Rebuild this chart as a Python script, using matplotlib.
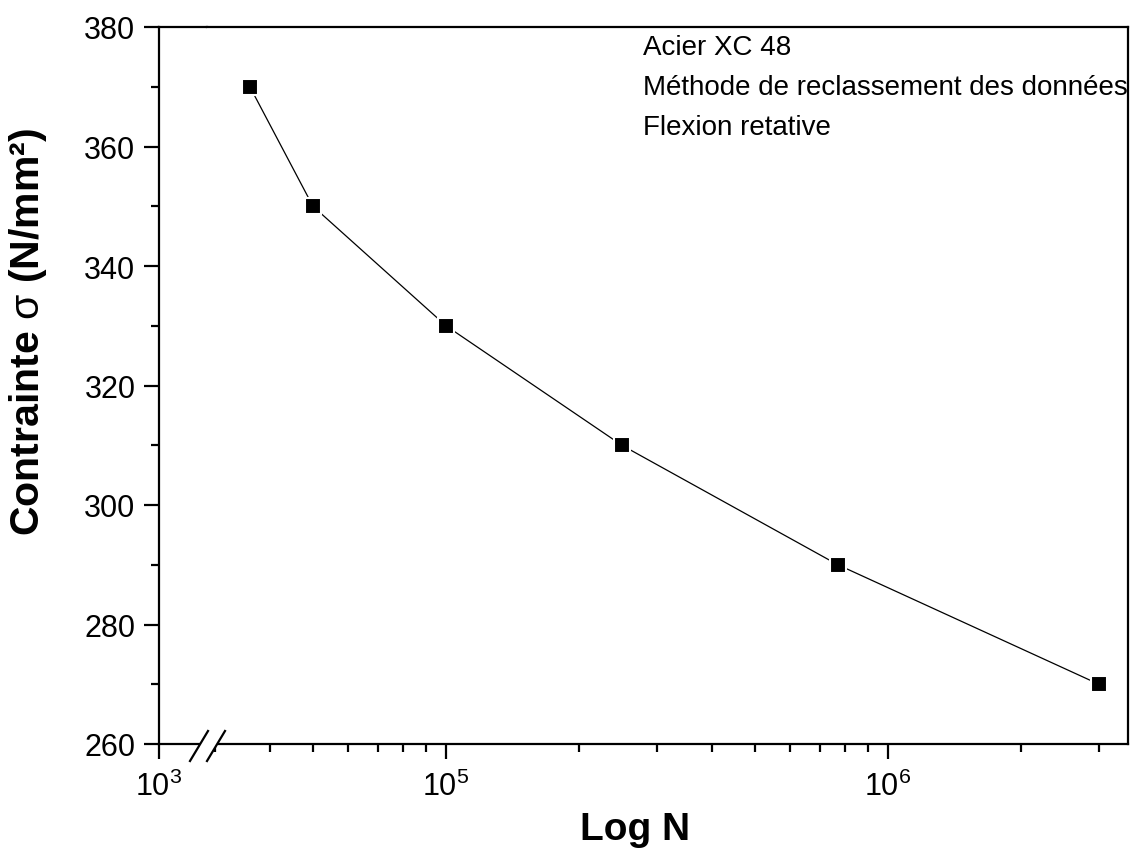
import matplotlib
matplotlib.use("Agg")
import matplotlib.pyplot as plt
from matplotlib.lines import Line2D
from matplotlib.patches import Polygon
from matplotlib.ticker import FixedLocator, NullFormatter, NullLocator

plt.rcParams['font.family'] = ['Liberation Sans', 'DejaVu Sans']
plt.rcParams['mathtext.fontset'] = 'custom'
plt.rcParams['mathtext.rm'] = 'Liberation Sans'

# data
cycles = [3.6e4, 5.0e4, 1.0e5, 2.5e5, 7.7e5, 3.0e6]
contrainte = [370, 350, 330, 310, 290, 270]
notes = ["Acier XC 48", "Méthode de reclassement des données", "Flexion retative"]

W, H = 1139, 854


def px(x, y):
    return x / W, 1 - y / H


fig = plt.figure(figsize=(W / 100, H / 100), dpi=100)

x0, x_cut, x1 = 159, 207, 1128
y_top, y_bot = 28, 745
bottom = 1 - y_bot / H
height = (y_bot - y_top) / H

# left stub of the broken axis (only carries the 10^3 tick)
ax0 = fig.add_axes([x0 / W, bottom, (x_cut - x0) / W, height])
# main part
ax = fig.add_axes([x_cut / W, bottom, (x1 - x_cut) / W, height], sharey=ax0)

decade = 442.0
ax.set_xscale('log')
ax.set_xlim(10 ** (5 - (446 - x_cut) / decade), 10 ** (5 + (x1 - 446) / decade))
ax0.set_xscale('log')
ax0.set_xlim(1e3, 10 ** (3 + (x_cut - x0) / decade))
ax0.set_ylim(260, 380)

ax.plot(cycles, contrainte, color='black', lw=0.9, marker='s', ms=11.5,
        mfc='black', mec='white', mew=1.5, clip_on=False)

lw = 1.6
for a in (ax0, ax):
    for s in a.spines.values():
        s.set_linewidth(lw)
    a.tick_params(which='major', direction='out', length=11, width=lw,
                  labelsize=22, pad=6)
    a.tick_params(which='minor', direction='out', length=6, width=lw)
ax0.spines['right'].set_visible(False)
ax.spines['left'].set_visible(False)
ax.tick_params(axis='y', which='both', left=False, labelleft=False)
ax0.tick_params(axis='x', pad=8)
ax.tick_params(axis='x', pad=8)

ax0.xaxis.set_major_locator(FixedLocator([1e3]))
ax0.xaxis.set_major_formatter(plt.FixedFormatter([r'$\mathregular{10^3}$']))
ax0.xaxis.set_minor_locator(NullLocator())

ax.xaxis.set_major_locator(FixedLocator([1e5, 1e6]))
ax.xaxis.set_major_formatter(plt.FixedFormatter([r'$\mathregular{10^5}$',
                                                 r'$\mathregular{10^6}$']))
minors = [k * 10 ** e for e in (4, 5, 6) for k in range(2, 10)]
ax.xaxis.set_minor_locator(FixedLocator(minors))
ax.xaxis.set_minor_formatter(NullFormatter())

ax0.set_yticks([260, 280, 300, 320, 340, 360, 380])
ax0.set_yticks([270, 290, 310, 330, 350, 370], minor=True)

# break marks on the bottom axis
gap = Polygon([px(190, 762), px(207, 762), px(225, 732), px(208, 732)],
              closed=True, transform=fig.transFigure, facecolor='white',
              edgecolor='none', zorder=5)
fig.add_artist(gap)
for xa, xb in ((190, 208), (207, 225)):
    (ax_, ay_), (bx_, by_) = px(xa, 762), px(xb, 732)
    fig.add_artist(Line2D([ax_, bx_], [ay_, by_], transform=fig.transFigure,
                          color='black', lw=lw, zorder=6))

for i, t in enumerate(notes):
    fx, fy = px(643, 48 + 40 * i)
    fig.text(fx, fy, t, fontsize=20, ha='left', va='center')

fx, fy = px(28, 332)
fig.text(fx, fy, r'Contrainte $\mathrm{\sigma}$ (N/mm²)', fontsize=29.5,
         fontweight='bold', rotation=90, ha='center', va='center')
fx, fy = px(635, 830)
fig.text(fx, fy, 'Log N', fontsize=28, fontweight='bold', ha='center', va='center')

fig.savefig('out.png', dpi=100)
